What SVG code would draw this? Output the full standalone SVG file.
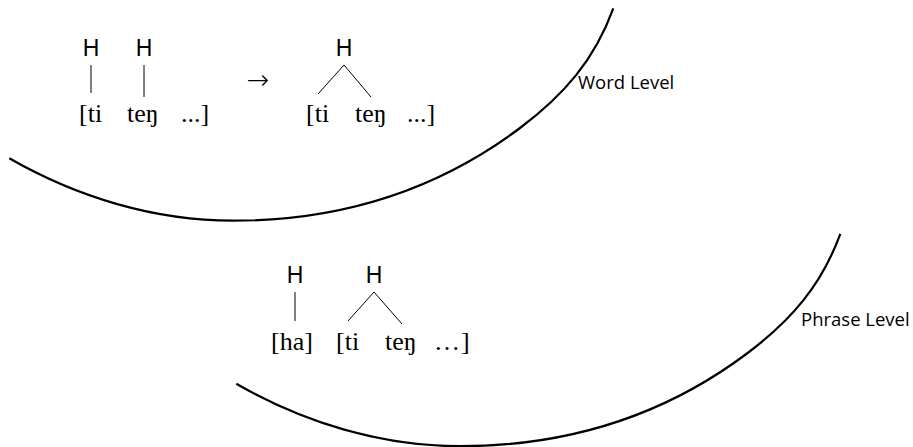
<svg xmlns="http://www.w3.org/2000/svg" width="913" height="447" viewBox="0 0 913 447">
<style>
.h{font-family:"Liberation Sans",Arial,sans-serif;font-size:23px;fill:#000}
.s{font-family:"Liberation Serif","Times New Roman",serif;font-size:26px;fill:#000}
.ar{font-family:"DejaVu Sans",sans-serif;font-size:27px;font-weight:200;fill:#000}
.lbl{font-family:"Open Sans","Liberation Sans",sans-serif;font-size:18.5px;fill:#000}
.ln{stroke:#000;stroke-width:1;fill:none}
.arc{stroke:#000;stroke-width:2.2;fill:none}
</style>
<defs>
<path id="domain-arc" class="arc" d="M9.3,158.3 C77.5,197.4 154.4,220.7 233,220.7 C338,220.7 436,191 520,128 C564,95 594.5,60 613.3,8.3"/>
</defs>
<rect width="913" height="447" fill="#fff"/>
<g id="word-level-domain">
<use href="#domain-arc"/>
<text class="lbl" x="578" y="89">Word Level</text>
</g>
<g id="phrase-level-domain">
<use href="#domain-arc" transform="translate(227,225.5)"/>
<text class="lbl" x="801" y="326">Phrase Level</text>
</g>
<g id="input-form">
<text class="h" x="91" y="56" text-anchor="middle">H</text>
<text class="h" x="144" y="56" text-anchor="middle">H</text>
<text class="s" x="79" y="122">[ti</text>
<text class="s" x="127" y="122">teŋ</text>
<text class="s" x="181" y="122">...]</text>
</g>
<g id="arrow">
<text class="ar" x="258" y="89" text-anchor="middle">→</text>
</g>
<g id="output-form">
<text class="h" x="344" y="56" text-anchor="middle">H</text>
<text class="s" x="306" y="122">[ti</text>
<text class="s" x="355" y="122">teŋ</text>
<text class="s" x="407" y="122">...]</text>
</g>
<g id="phrase-form">
<text class="h" x="295" y="283" text-anchor="middle">H</text>
<text class="h" x="374" y="283" text-anchor="middle">H</text>
<text class="s" x="271" y="350">[ha]</text>
<text class="s" x="336" y="350">[ti</text>
<text class="s" x="385" y="350">teŋ</text>
<text class="s" x="434" y="350">…</text>
<text class="s" x="461" y="350">]</text>
</g>
<g id="connectors">
<line class="ln" x1="91" y1="65" x2="91" y2="93"/>
<line class="ln" x1="144" y1="65" x2="144" y2="97"/>
<line class="ln" x1="344" y1="65" x2="318" y2="94"/>
<line class="ln" x1="344" y1="65" x2="371" y2="97"/>
<line class="ln" x1="295" y1="292" x2="295" y2="321"/>
<line class="ln" x1="374" y1="292" x2="348" y2="321"/>
<line class="ln" x1="374" y1="292" x2="402" y2="324"/>
</g>
</svg>
